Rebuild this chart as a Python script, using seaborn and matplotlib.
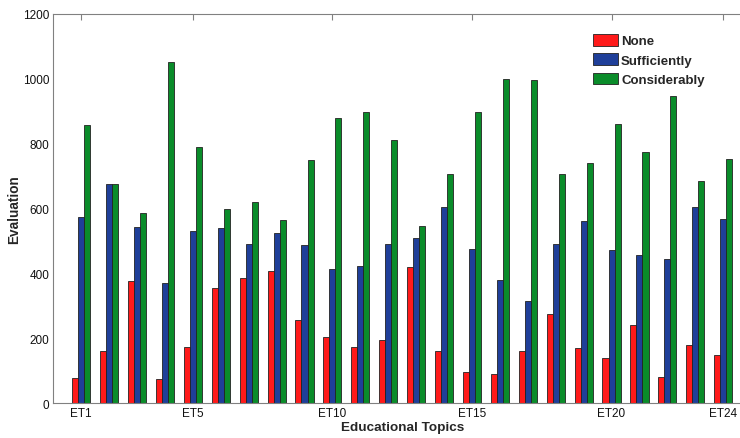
import pandas as pd
import seaborn as sns
import numpy as np
import matplotlib.pyplot as plt

sns.set_style(style='white')
plt.rcParams['font.family'] = ['Liberation Sans', 'DejaVu Sans']

topics = [f'ET{i}' for i in range(1, 25)]
none_vals = [78, 160, 377, 75, 174, 354, 387, 408, 256, 204, 174, 194,
             420, 162, 98, 89, 160, 276, 170, 140, 242, 82, 181, 150]
sufficiently_vals = [574, 675, 543, 370, 532, 540, 490, 524, 488, 414, 424, 492,
                     508, 606, 475, 380, 316, 490, 561, 472, 457, 446, 606, 567]
considerably_vals = [858, 675, 588, 1051, 790, 599, 620, 565, 751, 879, 898, 810,
                     546, 706, 898, 1001, 995, 706, 740, 862, 773, 946, 686, 754]
levels = ['None', 'Sufficiently', 'Considerably']
tick_topics = ['ET1', 'ET5', 'ET10', 'ET15', 'ET20', 'ET24']

df = pd.DataFrame({
    'topic': topics * 3,
    'level': np.repeat(levels, len(topics)),
    'value': none_vals + sufficiently_vals + considerably_vals,
})

palette = {'None': '#ff1a1a', 'Sufficiently': '#1f3f99', 'Considerably': '#0a8c2a'}

fig = plt.figure(figsize=(7.4, 4.39), dpi=100)
ax = fig.add_axes([0.072, 0.079, 0.943, 0.887])

sns.barplot(data=df, x='topic', y='value', hue='level', order=topics,
            hue_order=levels, palette=palette, width=0.65,
            edgecolor='#222222', linewidth=0.6, saturation=1, ax=ax)

ax.set_xlim(-1, 24)
ax.set_ylim(0, 1200)
ax.set_yticks(range(0, 1201, 200))
ax.set_xticks([topics.index(t) for t in tick_topics])
ax.set_xticklabels(tick_topics)
ax.tick_params(axis='both', direction='in', length=4, width=0.8,
               color='#808080', labelsize=8.5, labelcolor='#111111',
               top=True, pad=3)
for side in ['left', 'top', 'bottom', 'right']:
    ax.spines[side].set_color('#808080')
    ax.spines[side].set_linewidth(0.8)

ax.set_xlabel('Educational Topics', fontsize=9.7, weight='bold', labelpad=1)
ax.set_ylabel('Evaluation', fontsize=9.8, weight='bold', labelpad=1)

ax.legend(title=None, frameon=False, loc='upper left',
          bbox_to_anchor=(0.774, 0.949),
          prop={'weight': 'bold', 'size': 9.5},
          handlelength=1.9, handleheight=1.0, labelspacing=0.45,
          handletextpad=0.2, borderaxespad=0, borderpad=0)

fig.savefig('out.png', dpi=100)
